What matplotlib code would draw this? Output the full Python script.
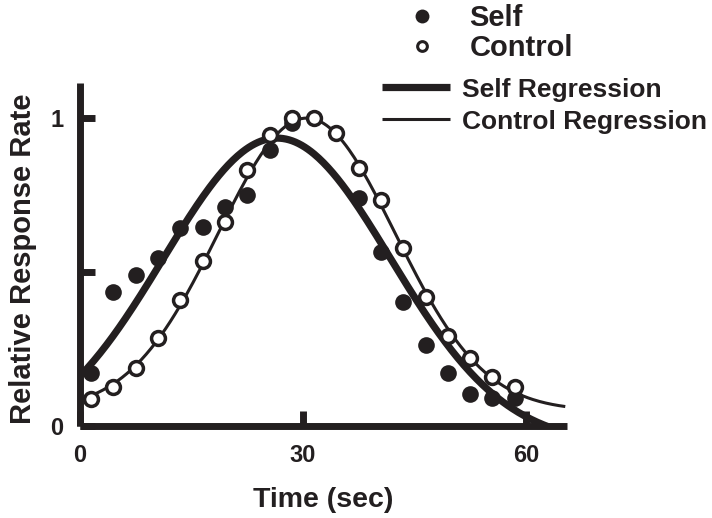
import numpy as np
import matplotlib
matplotlib.use("Agg")
import matplotlib.pyplot as plt
from matplotlib.lines import Line2D

# time bins (sec)
self_time = [1.5, 4.5, 7.5, 10.5, 13.5, 16.5, 19.5, 22.5, 25.5, 28.5,
             37.5, 40.5, 43.5, 46.5, 49.5, 52.5, 55.5, 58.5]
self_rate = [0.171, 0.436, 0.490, 0.544, 0.642, 0.647, 0.710, 0.750, 0.896, 0.983,
             0.739, 0.566, 0.404, 0.263, 0.173, 0.104, 0.090, 0.090]

control_time = [1.5, 4.5, 7.5, 10.5, 13.5, 16.5, 19.5, 22.5, 25.5, 28.5,
                31.5, 34.5, 37.5, 40.5, 43.5, 46.5, 49.5, 52.5, 55.5, 58.5]
control_rate = [0.087, 0.128, 0.187, 0.285, 0.409, 0.537, 0.663, 0.831, 0.945, 1.0,
                1.0, 0.950, 0.837, 0.734, 0.577, 0.420, 0.292, 0.220, 0.160, 0.128]

# gaussian regression parameters: amplitude, peak time, width, baseline
self_fit = (0.995, 26.5, 15.3, -0.06)
control_fit = (0.95, 30.5, 11.9, 0.05)

xticks = [0, 30, 60]
yticks = [0, 0.5, 1]
ytick_labels = ["0", "", "1"]

INK = "#231f20"
plt.rcParams["font.family"] = ["Liberation Sans", "DejaVu Sans"]
plt.rcParams["font.weight"] = "bold"
plt.rcParams["axes.labelweight"] = "bold"


def gauss(t, a, mu, sd, base):
    return a * np.exp(-(t - mu) ** 2 / (2 * sd ** 2)) + base


fig = plt.figure(figsize=(7.12, 5.18), dpi=100)
ax = fig.add_axes([0.1124, 0.1776, 0.6836, 0.6622])

t_self = np.linspace(0.2, 63, 300)
t_ctrl = np.linspace(0.45, 65.3, 300)
ax.plot(t_self, gauss(t_self, *self_fit), color=INK, lw=5.2,
        solid_capstyle="butt", zorder=2)
ax.plot(t_ctrl, gauss(t_ctrl, *control_fit), color=INK, lw=2.2,
        solid_capstyle="butt", zorder=2)
ax.plot(self_time, self_rate, "o", color=INK, ms=12, mew=0, zorder=3)
ax.plot(control_time, control_rate, "o", mfc="white", mec=INK, ms=10,
        mew=2.5, zorder=4)

ax.set_xlim(0, 65.5)
ax.set_ylim(0, 1.114)
for side in ("top", "right"):
    ax.spines[side].set_visible(False)
for side in ("left", "bottom"):
    ax.spines[side].set_linewidth(5)
    ax.spines[side].set_color(INK)
    ax.spines[side].set_capstyle("butt")

ax.set_xticks(xticks)
ax.set_xticklabels([str(v) for v in xticks])
ax.set_yticks(yticks)
ax.set_yticklabels(ytick_labels)
ax.tick_params(direction="in", length=11, width=5, color=INK, pad=12,
               labelsize=17, labelcolor=INK)
ax.tick_params(axis="x", pad=13)

ax.set_xlabel("Time (sec)", fontsize=20.5, color=INK)
ax.xaxis.set_label_coords(0.5, -0.215)
ax.xaxis.label.set_va("center")
ax.set_ylabel("Relative Response Rate", fontsize=21, color=INK)
ax.yaxis.set_label_coords(-0.117, 0.487)
ax.yaxis.label.set_va("center")

marker_handles = [
    Line2D([], [], ls="none", marker="o", color=INK, ms=10, mew=0),
    Line2D([], [], ls="none", marker="o", mfc="white", mec=INK, ms=7, mew=2.2),
]
leg1 = fig.legend(marker_handles, ["Self", "Control"], loc="center left",
                  bbox_to_anchor=(0.572, 0.936), frameon=False, fontsize=21,
                  handlelength=1.0, handletextpad=1.14, labelspacing=0.07,
                  borderpad=0, borderaxespad=0)
for txt in leg1.get_texts():
    txt.set_color(INK)

line_handles = [
    Line2D([], [], color=INK, lw=5.2, solid_capstyle="butt"),
    Line2D([], [], color=INK, lw=2.2, solid_capstyle="butt"),
]
leg2 = fig.legend(line_handles, ["Self Regression", "Control Regression"],
                  loc="center left", bbox_to_anchor=(0.536, 0.796),
                  frameon=False, fontsize=19, handlelength=2.59,
                  handletextpad=0.44, labelspacing=0.3, borderpad=0,
                  borderaxespad=0)
for txt in leg2.get_texts():
    txt.set_color(INK)

fig.savefig("out.png", dpi=100)
